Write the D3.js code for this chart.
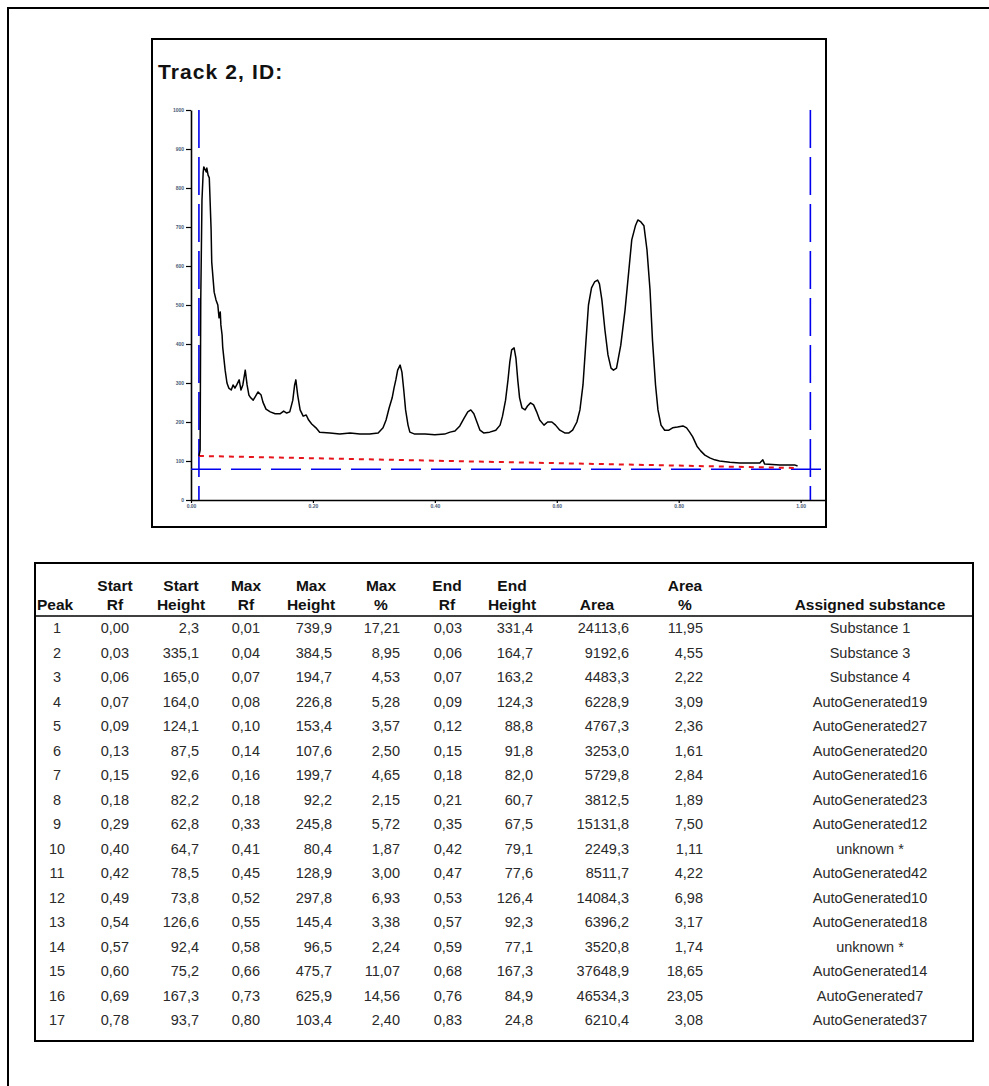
<!DOCTYPE html>
<html>
  <head>
    <meta charset="utf-8" />
    <title>Track 2, ID:</title>
    <script src="https://d3js.org/d3.v7.min.js"></script>
    <style>
      body { margin: 0; background: #fff; }
      svg { display: block; font-family: "Liberation Sans", Arial, sans-serif; }
    </style>
  </head>
  <body>
    <div id="figure"></div>
    <script type="text/javascript">
      // densitogram trace (track position, signal in AU)
      var curveRf = [
        0.013, 0.015, 0.016, 0.018, 0.020, 0.021, 0.025, 0.026, 0.028, 0.030,
        0.031, 0.033, 0.034, 0.038, 0.041, 0.044, 0.046, 0.048, 0.049, 0.051,
        0.052, 0.056, 0.059, 0.062, 0.066, 0.069, 0.072, 0.075, 0.079, 0.082,
        0.085, 0.089, 0.092, 0.095, 0.098, 0.102, 0.105, 0.110, 0.115, 0.118,
        0.123, 0.130, 0.138, 0.146, 0.152, 0.157, 0.162, 0.167, 0.170, 0.172,
        0.175, 0.179, 0.184, 0.189, 0.193, 0.198, 0.205, 0.211, 0.228, 0.244,
        0.261, 0.277, 0.293, 0.307, 0.315, 0.320, 0.325, 0.330, 0.333, 0.336,
        0.339, 0.343, 0.346, 0.349, 0.352, 0.356, 0.359, 0.367, 0.384, 0.400,
        0.416, 0.425, 0.433, 0.441, 0.448, 0.454, 0.459, 0.464, 0.469, 0.474,
        0.480, 0.490, 0.500, 0.507, 0.511, 0.516, 0.520, 0.523, 0.526, 0.530,
        0.533, 0.536, 0.539, 0.543, 0.548, 0.552, 0.557, 0.562, 0.567, 0.572,
        0.579, 0.585, 0.592, 0.598, 0.605, 0.613, 0.620, 0.626, 0.633, 0.638,
        0.643, 0.648, 0.652, 0.657, 0.662, 0.667, 0.670, 0.674, 0.679, 0.684,
        0.689, 0.693, 0.698, 0.705, 0.712, 0.718, 0.723, 0.729, 0.733, 0.738,
        0.743, 0.748, 0.753, 0.757, 0.762, 0.766, 0.771, 0.777, 0.784, 0.790,
        0.798, 0.807, 0.813, 0.818, 0.823, 0.830, 0.836, 0.843, 0.851, 0.859,
        0.867, 0.884, 0.900, 0.916, 0.933, 0.938, 0.941, 0.966, 0.990, 0.995
      ];
      var curveValue = [
        113, 128, 513, 769, 841, 854, 841, 851, 833, 826,
        782, 692, 610, 533, 513, 500, 467, 482, 449, 423,
        392, 333, 300, 287, 282, 295, 287, 295, 308, 282,
        295, 333, 295, 269, 262, 256, 264, 277, 269, 251,
        233, 226, 221, 221, 228, 223, 226, 256, 295, 308,
        269, 231, 215, 218, 205, 195, 185, 174, 172, 169,
        172, 169, 169, 172, 185, 205, 236, 262, 287, 308,
        333, 346, 328, 282, 231, 192, 174, 169, 169, 167,
        169, 174, 177, 190, 210, 226, 231, 221, 200, 179,
        172, 174, 179, 192, 215, 256, 308, 354, 385, 390,
        364, 308, 262, 236, 231, 241, 249, 244, 226, 205,
        192, 200, 200, 192, 179, 172, 172, 179, 200, 231,
        295, 410, 500, 544, 559, 564, 554, 513, 436, 372,
        338, 333, 338, 397, 487, 585, 667, 703, 718, 713,
        703, 641, 538, 410, 295, 231, 192, 179, 179, 185,
        187, 190, 185, 174, 162, 138, 126, 115, 108, 103,
        100, 97, 95, 95, 95, 103, 92, 90, 90, 87
      ];
      var baselineRf = [0.013, 0.995];
      var baselineValue = [113, 82];
      var trackLines = [0.013, 1.016];
      var thresholdValue = 79;
      var yTicks = [0, 100, 200, 300, 400, 500, 600, 700, 800, 900, 1000];
      var xTicks = [0, 0.2, 0.4, 0.6, 0.8, 1.0];

      // peak table
      var peak = ["1", "2", "3", "4", "5", "6", "7", "8", "9", "10", "11", "12", "13", "14", "15", "16", "17"];
      var startRf = ["0,00", "0,03", "0,06", "0,07", "0,09", "0,13", "0,15", "0,18", "0,29", "0,40", "0,42", "0,49", "0,54", "0,57", "0,60", "0,69", "0,78"];
      var startHeight = ["2,3", "335,1", "165,0", "164,0", "124,1", "87,5", "92,6", "82,2", "62,8", "64,7", "78,5", "73,8", "126,6", "92,4", "75,2", "167,3", "93,7"];
      var maxRf = ["0,01", "0,04", "0,07", "0,08", "0,10", "0,14", "0,16", "0,18", "0,33", "0,41", "0,45", "0,52", "0,55", "0,58", "0,66", "0,73", "0,80"];
      var maxHeight = ["739,9", "384,5", "194,7", "226,8", "153,4", "107,6", "199,7", "92,2", "245,8", "80,4", "128,9", "297,8", "145,4", "96,5", "475,7", "625,9", "103,4"];
      var maxPct = ["17,21", "8,95", "4,53", "5,28", "3,57", "2,50", "4,65", "2,15", "5,72", "1,87", "3,00", "6,93", "3,38", "2,24", "11,07", "14,56", "2,40"];
      var endRf = ["0,03", "0,06", "0,07", "0,09", "0,12", "0,15", "0,18", "0,21", "0,35", "0,42", "0,47", "0,53", "0,57", "0,59", "0,68", "0,76", "0,83"];
      var endHeight = ["331,4", "164,7", "163,2", "124,3", "88,8", "91,8", "82,0", "60,7", "67,5", "79,1", "77,6", "126,4", "92,3", "77,1", "167,3", "84,9", "24,8"];
      var area = ["24113,6", "9192,6", "4483,3", "6228,9", "4767,3", "3253,0", "5729,8", "3812,5", "15131,8", "2249,3", "8511,7", "14084,3", "6396,2", "3520,8", "37648,9", "46534,3", "6210,4"];
      var areaPct = ["11,95", "4,55", "2,22", "3,09", "2,36", "1,61", "2,84", "1,89", "7,50", "1,11", "4,22", "6,98", "3,17", "1,74", "18,65", "23,05", "3,08"];
      var substance = ["Substance 1", "Substance 3", "Substance 4", "AutoGenerated19", "AutoGenerated27", "AutoGenerated20", "AutoGenerated16", "AutoGenerated23", "AutoGenerated12", "unknown *", "AutoGenerated42", "AutoGenerated10", "AutoGenerated18", "unknown *", "AutoGenerated14", "AutoGenerated7", "AutoGenerated37"];

      var width = 989;
      var height = 1086;

      var svg = d3
        .select("#figure")
        .append("svg")
        .attr("width", width)
        .attr("height", height);

      // page frame
      svg.append("path")
        .attr("d", "M8," + height + "V8H" + width)
        .attr("fill", "none")
        .attr("stroke", "#000")
        .attr("stroke-width", 2);

      // ---------- densitogram ----------
      svg.append("rect")
        .attr("x", 152).attr("y", 39)
        .attr("width", 674).attr("height", 488)
        .attr("fill", "none")
        .attr("stroke", "#000")
        .attr("stroke-width", 2);

      svg.append("text")
        .attr("x", 158).attr("y", 79)
        .attr("font-size", 21)
        .attr("font-weight", "bold")
        .attr("letter-spacing", 1.1)
        .attr("fill", "#111")
        .text("Track 2, ID:");

      var x = d3.scaleLinear().domain([0, 1.04]).range([191, 825]);
      var y = d3.scaleLinear().domain([0, 1000]).range([500, 110]);

      var yAxis = svg.append("g")
        .attr("transform", "translate(191,0)")
        .call(d3.axisLeft(y).tickValues(yTicks).tickSize(5).tickSizeOuter(0).tickPadding(2)
          .tickFormat(d3.format("d")));
      var xAxis = svg.append("g")
        .attr("transform", "translate(0,500)")
        .call(d3.axisBottom(x).tickValues(xTicks).tickSize(3).tickSizeOuter(0).tickPadding(1)
          .tickFormat(d3.format(".2f")));

      [yAxis, xAxis].forEach(function (g) {
        g.selectAll("path").attr("stroke", "#000").attr("stroke-width", 1.6);
        g.selectAll("line").attr("stroke", "#000").attr("stroke-width", 1.2);
        g.selectAll("text")
          .attr("font-size", 5)
          .attr("font-weight", "bold")
          .attr("fill", "#4a5a78");
      });

      // threshold and track limits (blue, long dashes)
      svg.append("line")
        .attr("x1", x(0)).attr("x2", x(1.04))
        .attr("y1", y(thresholdValue)).attr("y2", y(thresholdValue))
        .attr("stroke", "#0000ee")
        .attr("stroke-width", 1.6)
        .attr("stroke-dasharray", "30,10");

      svg.selectAll("line.track")
        .data(trackLines)
        .enter()
        .append("line")
        .attr("class", "track")
        .attr("x1", function (d) { return x(d); })
        .attr("x2", function (d) { return x(d); })
        .attr("y1", y(1000)).attr("y2", y(0))
        .attr("stroke", "#0000ee")
        .attr("stroke-width", 1.6)
        .attr("stroke-dasharray", "38,9");

      // baseline (red dotted)
      var baseData = baselineRf.map(function (d, i) { return [d, baselineValue[i]]; });
      svg.append("path")
        .datum(baseData)
        .attr("fill", "none")
        .attr("stroke", "#e8141c")
        .attr("stroke-width", 2)
        .attr("stroke-dasharray", "5,5")
        .attr("d", d3.line()
          .x(function (d) { return x(d[0]); })
          .y(function (d) { return y(d[1]); }));

      // trace
      var trace = curveRf.map(function (d, i) { return [d, curveValue[i]]; });
      svg.append("path")
        .datum(trace)
        .attr("fill", "none")
        .attr("stroke", "#000")
        .attr("stroke-width", 1.5)
        .attr("stroke-linejoin", "round")
        .attr("d", d3.line()
          .x(function (d) { return x(d[0]); })
          .y(function (d) { return y(d[1]); }));

      // ---------- peak table ----------
      svg.append("rect")
        .attr("x", 35).attr("y", 563)
        .attr("width", 938).attr("height", 478)
        .attr("fill", "none")
        .attr("stroke", "#000")
        .attr("stroke-width", 2);

      svg.append("line")
        .attr("x1", 35).attr("x2", 973)
        .attr("y1", 616).attr("y2", 616)
        .attr("stroke", "#000")
        .attr("stroke-width", 1.5);

      var columns = [
        { head: ["", "Peak"], values: peak, x: 57, hx: 37, anchor: "middle", hanchor: "start" },
        { head: ["Start", "Rf"], values: startRf, x: 129, hx: 115, anchor: "end", hanchor: "middle" },
        { head: ["Start", "Height"], values: startHeight, x: 199, hx: 181, anchor: "end", hanchor: "middle" },
        { head: ["Max", "Rf"], values: maxRf, x: 260, hx: 246, anchor: "end", hanchor: "middle" },
        { head: ["Max", "Height"], values: maxHeight, x: 332, hx: 311, anchor: "end", hanchor: "middle" },
        { head: ["Max", "%"], values: maxPct, x: 400, hx: 381, anchor: "end", hanchor: "middle" },
        { head: ["End", "Rf"], values: endRf, x: 462, hx: 447, anchor: "end", hanchor: "middle" },
        { head: ["End", "Height"], values: endHeight, x: 533, hx: 512, anchor: "end", hanchor: "middle" },
        { head: ["", "Area"], values: area, x: 629, hx: 597, anchor: "end", hanchor: "middle" },
        { head: ["Area", "%"], values: areaPct, x: 703, hx: 685, anchor: "end", hanchor: "middle" },
        { head: ["", "Assigned substance"], values: substance, x: 870, hx: 870, anchor: "middle", hanchor: "middle" }
      ];

      var row = d3.scaleLinear().domain([0, peak.length - 1]).range([633, 1025]);

      var col = svg.selectAll("g.col")
        .data(columns)
        .enter()
        .append("g")
        .attr("class", "col");

      col.selectAll("text.h")
        .data(function (c) { return c.head.map(function (h, i) { return { t: h, i: i, c: c }; }); })
        .enter()
        .append("text")
        .attr("class", "h")
        .attr("x", function (d) { return d.c.hx; })
        .attr("y", function (d) { return d.i === 0 ? 591 : 610; })
        .attr("text-anchor", function (d) { return d.c.hanchor; })
        .attr("font-size", 15.5)
        .attr("font-weight", "bold")
        .attr("fill", "#111")
        .text(function (d) { return d.t; });

      col.selectAll("text.v")
        .data(function (c) { return c.values.map(function (v, i) { return { t: v, i: i, c: c }; }); })
        .enter()
        .append("text")
        .attr("class", "v")
        .attr("x", function (d) { return d.c.x; })
        .attr("y", function (d) { return row(d.i); })
        .attr("text-anchor", function (d) { return d.c.anchor; })
        .attr("font-size", 14.5)
        .attr("fill", "#2a2a2a")
        .text(function (d) { return d.t; });
    </script>
  </body>
</html>
